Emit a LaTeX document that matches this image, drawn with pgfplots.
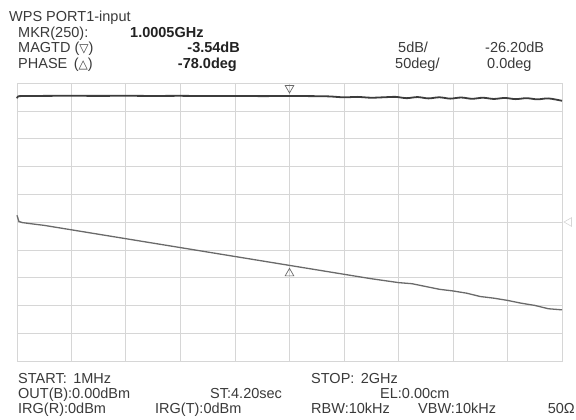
\documentclass[border=0pt]{standalone}
\usepackage{pgfplots}
\pgfplotsset{compat=1.18}
\usepackage{fontspec}
\setmainfont{Liberation Sans}
\newfontfamily\dejavu{DejaVu Sans}
\definecolor{txt}{HTML}{3A3A3A}
\definecolor{txtb}{HTML}{222222}
\definecolor{gridc}{HTML}{D6D6D6}
\definecolor{magc}{HTML}{3C3C3C}
\definecolor{phac}{HTML}{6A6A6A}
\begin{document}
\begin{tikzpicture}[x=1pt,y=1pt]
\useasboundingbox (0,-420) rectangle (576,0);
\fill[white] (0,-420) rectangle (576,0);
% phase axis with grid
\begin{axis}[at={(17pt,-361pt)}, anchor=south west, width=545pt, height=278pt, scale only axis,
  xmin=0.001, xmax=2, ymin=-250, ymax=250,
  xtick={0.2,0.4,0.6,0.8,1.0,1.2,1.4,1.6,1.8}, ytick={-200,-150,-100,-50,0,50,100,150,200},
  xticklabels={}, yticklabels={}, major tick length=0pt,
  grid=major, major grid style={draw=gridc, line width=0.6pt},
  axis line style={draw=gridc, line width=0.6pt}, clip=false]
\addplot[phac, line width=1.3pt, no marks] coordinates {
(0.001,12) (0.008,1) (0.02,-1) (0.05,-3) (0.1,-6) (0.2,-14) (0.3,-22) (0.4,-30)
(0.5,-38) (0.6,-46) (0.7,-54) (0.8,-62) (0.9,-70) (1.0,-78) (1.1,-86) (1.2,-94)
(1.3,-102) (1.4,-109) (1.45,-111) (1.5,-116) (1.55,-121) (1.6,-124) (1.65,-128)
(1.7,-134) (1.75,-137) (1.8,-141) (1.85,-146) (1.9,-150) (1.95,-156) (2.0,-158)};
\addplot[only marks, mark=triangle, mark size=5pt, mark options={draw=phac, fill=white, line width=0.7pt, yshift=-8pt}] coordinates {(1.0005,-78)};
\addplot[only marks, mark=triangle, mark size=5pt, mark options={draw=gridc, fill=white, line width=0.6pt, xshift=7pt, rotate=90}] coordinates {(2,0)};
\end{axis}
% magnitude axis
\begin{axis}[at={(17pt,-361pt)}, anchor=south west, width=545pt, height=278pt, scale only axis,
  xmin=0.001, xmax=2, ymin=-51.2, ymax=-1.2, hide axis, clip=false]
\addplot[magc, line width=1.8pt, no marks, smooth, tension=0.5] coordinates {
(0.001,-3.95) (0.005,-3.62) (0.02,-3.55) (0.1,-3.52) (0.2,-3.50) (0.3,-3.52) (0.4,-3.50)
(0.5,-3.53) (0.6,-3.51) (0.7,-3.55) (0.8,-3.53) (0.9,-3.56) (1.0,-3.54) (1.1,-3.57)
(1.15,-3.62) (1.2,-3.78) (1.25,-3.70) (1.3,-3.85) (1.35,-3.76)
(1.39,-3.70) (1.43,-3.93) (1.47,-3.73) (1.51,-3.97) (1.55,-3.77) (1.59,-4.01)
(1.63,-3.81) (1.67,-4.04) (1.71,-3.85) (1.75,-4.07) (1.79,-3.89) (1.83,-4.10)
(1.87,-3.93) (1.91,-4.14) (1.95,-3.97) (2.0,-4.40)};
\addplot[only marks, mark=triangle, mark size=5pt, mark options={draw=phac, fill=white, line width=0.7pt, yshift=8pt, rotate=180}] coordinates {(1.0005,-3.54)};
\end{axis}
% header text
\tikzset{t/.style={anchor=base west, inner sep=0pt, text=txt, font=\fontsize{14.5}{16}\selectfont},
         tb/.style={anchor=base east, inner sep=0pt, text=txtb, font=\fontsize{14.5}{16}\selectfont\bfseries}}
\node[t] at (9,-21.5) {WPS PORT1-input};
\node[t] at (18,-37.5) {MKR(250):};
\node[t, text=txtb, font=\fontsize{14.5}{16}\selectfont\bfseries] at (130,-37.5) {1.0005GHz};
\node[t] at (18,-53) {MAGTD ({\dejavu\fontsize{12}{12}\selectfont ▽})};
\node[tb] at (240,-53) {-3.54dB};
\node[t] at (18,-68.5) {PHASE\, ({\dejavu\fontsize{12}{12}\selectfont △})};
\node[tb] at (237,-68.5) {-78.0deg};
\node[t] at (398,-53) {5dB/};
\node[t] at (485,-53) {-26.20dB};
\node[t] at (395,-68.5) {50deg/};
\node[t] at (487,-68.5) {0.0deg};
% footer text
\node[t] at (18,-383) {START:\, 1MHz};
\node[t] at (311,-383) {STOP:\, 2GHz};
\node[t] at (18,-398) {OUT(B):0.00dBm};
\node[t] at (210,-398) {ST:4.20sec};
\node[t] at (380,-398) {EL:0.00cm};
\node[t] at (18,-413) {IRG(R):0dBm};
\node[t] at (155,-413) {IRG(T):0dBm};
\node[t] at (311,-413) {RBW:10kHz};
\node[t] at (418,-413) {VBW:10kHz};
\node[t, anchor=base east] at (575,-413) {50Ω};
\end{tikzpicture}
\end{document}
